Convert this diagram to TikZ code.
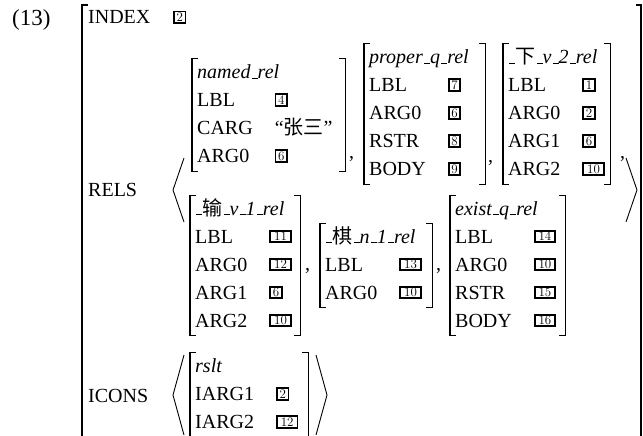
\documentclass[tikz,border=0pt]{standalone}
\usepackage{fontspec}
\newfontfamily\tms{Liberation Serif}
\newfontfamily\cjk{Noto Sans CJK SC}
\newcommand\us{\kern.06em\rule{.3em}{1.1pt}}
\newcommand\tagbox[2]{\raisebox{0pt}{\vbox{\hrule height 1.7pt\hbox{\vrule width 1.7pt\makebox[#1]{\rule[-0.6pt]{0pt}{9.8pt}\normalfont\fontsize{13}{13}\selectfont #2}\vrule width 1.7pt}\hrule height 1.7pt}}}
\newcommand\tg[1]{\tagbox{9.8pt}{#1}}
\newcommand\tgg[1]{\tagbox{18.8pt}{#1}}
\newcommand\avmtab[1]{\begin{tabular}{@{}l@{\hspace{22pt}}l@{}}#1\end{tabular}}
\newcommand\hd[1]{\multicolumn{2}{@{}l@{}}{\itshape #1}}
\newcommand\avmbr[1]{%
  \draw[brk] ([xshift=6pt]#1.north west) -- (#1.north west) -- (#1.south west) -- ([xshift=6pt]#1.south west);
  \draw[brk] ([xshift=-6pt]#1.north east) -- (#1.north east) -- (#1.south east) -- ([xshift=-6pt]#1.south east);}
\tikzset{
  lbl/.style={anchor=base west, inner sep=0pt, font=\tms\fontsize{20}{28}\selectfont},
  avm/.style={anchor=west, inner xsep=5pt, inner ysep=0pt, align=left, font=\tms\fontsize{20}{28}\selectfont},
  brk/.style={line width=1.1pt},
  ang/.style={line width=0.9pt, line join=miter},
}
\begin{document}
\begin{tikzpicture}[x=1pt,y=-1pt]
\useasboundingbox (0,0) rectangle (643,436);
% outer matrix
\node[lbl, font=\tms\fontsize{23}{28}\selectfont] (ex) at (12,26) {(13)};
\draw[brk] (88,5) -- (82,5) -- (82,440);
\draw[brk] (636,5) -- (641,5) -- (641,440);
\node[lbl] (index) at (88,24) {INDEX};
\node[lbl] (idxtag) at (173,24) {\tg{2}};
\node[lbl] (rels) at (88,196) {RELS};
\node[lbl] (icons) at (88,402) {ICONS};
% RELS list, line 1
\node[avm, text width=143pt] (nr) at (192,115) {\avmtab{\hd{named\us rel}\\ LBL & \tg{4}\\ CARG & “{\cjk 张三}”\\ ARG0 & \tg{6}}};
\node[avm, text width=111pt] (pq) at (364,114) {\avmtab{\hd{proper\us q\us rel}\\ LBL & \tg{7}\\ ARG0 & \tg{6}\\ RSTR & \tg{8}\\ BODY & \tg{9}}};
\node[avm, text width=97pt] (xia) at (503,114) {\avmtab{\hd{\us{\cjk 下}\us v\us 2\us rel}\\ LBL & \tg{1}\\ ARG0 & \tg{2}\\ ARG1 & \tg{6}\\ ARG2 & \tgg{10}}};
% line 2
\node[avm, text width=100pt] (shu) at (190,265.5) {\avmtab{\hd{\us{\cjk 输}\us v\us 1\us rel}\\ LBL & \tgg{11}\\ ARG0 & \tgg{12}\\ ARG1 & \tg{6}\\ ARG2 & \tgg{10}}};
\node[avm, text width=102pt] (qi) at (320,265.5) {\avmtab{\hd{\us{\cjk 棋}\us n\us 1\us rel}\\ LBL & \tgg{13}\\ ARG0 & \tgg{10}}};
\node[avm, text width=105pt] (exq) at (450,265.5) {\avmtab{\hd{exist\us q\us rel}\\ LBL & \tgg{14}\\ ARG0 & \tgg{10}\\ RSTR & \tgg{15}\\ BODY & \tgg{16}}};
% ICONS
\node[avm, text width=108pt] (rs) at (190,395) {\avmtab{\hd{rslt}\\ IARG1 & \tg{2}\\ IARG2 & \tgg{12}}};
\avmbr{nr}\avmbr{pq}\avmbr{xia}\avmbr{shu}\avmbr{qi}\avmbr{exq}\avmbr{rs}
% commas
\node[lbl] (c1) at (349,158) {,};
\node[lbl] (c2) at (488,162) {,};
\node[lbl] (c3) at (620,158) {,};
\node[lbl] (c4) at (305,270) {,};
\node[lbl] (c5) at (436,270) {,};
% angle brackets
\draw[ang] (184,158) -- (173,190) -- (184,222);
\draw[ang] (626,158) -- (637,190) -- (626,222);
\draw[ang] (184,355) -- (173,395) -- (184,435);
\draw[ang] (316,355) -- (327,395) -- (316,435);
\end{tikzpicture}
\end{document}
